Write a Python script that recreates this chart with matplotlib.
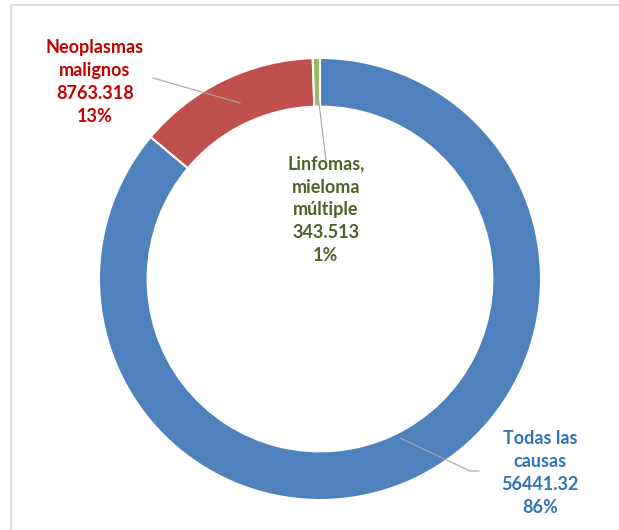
import matplotlib
matplotlib.use("Agg")
import matplotlib.pyplot as plt
from matplotlib.patches import Rectangle

# data
labels = ["Todas las\ncausas", "Neoplasmas\nmalignos", "Linfomas,\nmieloma\nmúltiple"]
valores = [56441.32, 8763.318, 343.513]
valor_txt = ["56441.32", "8763.318", "343.513"]
colores = ["#4F81BD", "#C0504D", "#9BBB59"]
txt_col = ["#2E75B6", "#C00000", "#4F6228"]

W, H = 619, 530
cx, cy, R = 320, 279, 221

plt.rcParams['font.family'] = ['Lato', 'DejaVu Sans']

fig = plt.figure(figsize=(W / 100, H / 100), dpi=100)
ax = fig.add_axes([0, 0, 1, 1])

def px(x, y):
    # pixel position -> data position
    return ((x - cx) / R, (cy - y) / R)

wedges, _ = ax.pie(valores, colors=colores, startangle=90, counterclock=False,
                   radius=1, wedgeprops=dict(width=0.22, edgecolor="white", linewidth=1.5))

ax.set_xlim(-cx / R, (W - cx) / R)
ax.set_ylim(-(H - cy) / R, cy / R)
ax.set_aspect("equal")
ax.axis("off")

total = sum(valores)
pct = [f"{round(v / total * 100):.0f}%" for v in valores]

# label text positions (pixels) and leader lines
pos = [(540, 473), (95, 82), (326, 210)]
lines = [[(400, 438), (470, 471), (479, 471)],
         [(153, 78), (240, 103)],
         [(318, 95), (326, 160)]]

for i in range(3):
    x, y = px(*pos[i])
    ax.text(x, y, labels[i] + "\n" + valor_txt[i] + "\n" + pct[i],
            ha="center", va="center", color=txt_col[i], fontsize=13,
            fontweight="bold", linespacing=1.42)
    xs = [px(a, b)[0] for a, b in lines[i]]
    ys = [px(a, b)[1] for a, b in lines[i]]
    ax.plot(xs, ys, color="#A6A6A6", lw=0.8)

# chart frame border
fig.patches.append(Rectangle((11 / W, -0.1), 1.2, 1 - 5 / H + 0.1, transform=fig.transFigure,
                             fill=False, edgecolor="#D9D9D9", lw=1.2))

fig.savefig("out.png", dpi=100)
